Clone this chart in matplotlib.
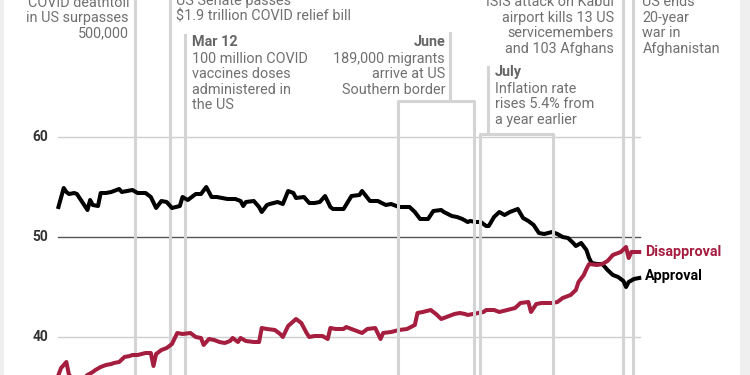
import matplotlib.pyplot as plt

plt.rcParams['font.family'] = ['Roboto', 'DejaVu Sans']

# day of year 2021 / poll average (%)
app_day = [24, 26, 27, 28, 30, 31, 33, 35, 36, 37, 39, 40, 42, 44, 47, 48, 52, 54, 57, 59,
           61, 63, 65, 67, 70, 71, 73, 76, 78, 80, 82, 84, 86, 88, 91, 93, 94, 95, 98, 100,
           101, 103, 104, 107, 109, 111, 113, 114, 117, 119, 121, 123, 125, 127, 128, 132, 135, 138, 139, 142,
           145, 148, 150, 153, 157, 159, 161, 164, 166, 169, 170, 173, 175, 177, 179, 180, 182, 184, 186, 187,
           189, 191, 193, 195, 198, 200, 202, 204, 206, 208, 211, 213, 215, 217, 219, 220, 222, 224, 225, 226,
           228, 230, 232, 234, 236, 238, 239, 240, 242, 244]
approval = [53.0, 54.9, 54.5, 54.3, 54.4, 54.3, 53.5, 52.7, 53.7, 53.2, 53.1, 54.4, 54.4, 54.5, 54.8, 54.5, 54.7, 54.4, 54.4, 54.0,
            52.9, 53.6, 53.5, 52.9, 53.1, 54.0, 53.7, 54.3, 54.3, 55.0, 54.0, 54.0, 53.9, 53.8, 53.8, 53.6, 53.1, 53.5, 53.6, 53.0,
            52.5, 53.2, 53.3, 53.5, 53.3, 54.6, 54.4, 53.9, 54.0, 53.4, 53.4, 53.5, 54.1, 53.0, 52.8, 52.8, 54.1, 54.2, 54.6, 53.6,
            53.6, 53.2, 53.3, 53.0, 53.0, 52.5, 51.8, 51.8, 52.6, 52.7, 52.5, 52.1, 52.0, 51.8, 51.5, 51.6, 51.5, 51.5, 51.1, 51.1,
            52.0, 52.5, 52.2, 52.5, 52.8, 51.9, 51.6, 51.2, 50.4, 50.3, 50.5, 50.3, 50.0, 49.9, 49.4, 49.1, 49.4, 48.7, 47.9, 47.4,
            47.3, 47.3, 46.7, 46.2, 46.0, 45.6, 45.0, 45.5, 45.8, 45.9]

dis_day = [24, 25, 27, 28, 30, 33, 35, 37, 38, 40, 41, 42, 44, 45, 47, 49, 51, 52, 54, 57,
           59, 60, 61, 63, 65, 67, 69, 71, 74, 76, 78, 79, 81, 83, 85, 87, 89, 90, 92, 93,
           95, 98, 100, 101, 103, 106, 108, 109, 111, 114, 116, 118, 119, 121, 124, 126, 127, 129, 132, 133,
           134, 136, 139, 141, 144, 146, 147, 150, 153, 156, 159, 160, 162, 165, 167, 169, 171, 174, 176, 178,
           179, 181, 185, 186, 189, 191, 194, 197, 199, 202, 203, 205, 207, 211, 213, 215, 218, 220, 221, 223,
           224, 225, 228, 230, 232, 234, 236, 237, 239, 240, 241, 243, 244]
disapproval = [36.2, 36.9, 37.5, 36.2, 35.7, 35.7, 36.2, 36.5, 36.7, 37.0, 37.1, 37.2, 37.3, 37.4, 37.5, 38.0, 38.1, 38.2, 38.2, 38.4,
               38.4, 37.1, 38.3, 38.7, 38.9, 39.3, 40.4, 40.3, 40.4, 40.0, 39.9, 39.2, 39.8, 39.7, 39.5, 39.4, 39.6, 39.9, 39.5, 39.9,
               39.6, 39.5, 39.5, 40.9, 40.8, 40.7, 40.3, 40.0, 41.1, 41.8, 41.4, 40.4, 40.0, 40.1, 40.1, 39.8, 40.9, 40.8, 40.8, 41.0,
               40.9, 40.7, 40.4, 40.8, 40.9, 39.8, 40.4, 40.5, 40.7, 40.8, 41.2, 42.4, 42.5, 42.7, 42.3, 41.8, 42.0, 42.3, 42.4, 42.3,
               42.2, 42.3, 42.5, 42.7, 42.7, 42.5, 42.7, 42.9, 43.4, 43.5, 42.5, 43.3, 43.4, 43.4, 43.5, 43.9, 44.2, 44.7, 45.5, 46.2,
               46.8, 47.3, 47.2, 47.3, 47.6, 48.2, 48.4, 48.5, 49.0, 47.9, 48.5, 48.5, 48.5]

grid_vals = [60, 50, 40]
event_days = [53, 66.3, 72, 238, 241.8]      # deathtoll, senate, Mar 12, Kabul, war ends
june = (152.5, 181.5, 172.3)                 # bracket start, end, label stem
july = (183.5, 211.5, 186.7)

GREY_LINE = '#d4d4d4'
TXT = '#707070'
RED = '#a51d3f'
FS = 10.4


# pixel helpers for placing the annotation layer
def px(x):
    return 53 + (x - 135) / 2.64


def py(y):
    return 50 + (237 - y) / 10


fig = plt.figure(figsize=(7.5, 3.75), dpi=100)
ax = fig.add_axes([0, 0, 1, 1])
ax.set_xlim(px(0), px(750))
ax.set_ylim(py(375), py(0))
ax.axis('off')

ax.axvspan(px(0), px(4), color='#efefef', lw=0)
ax.axvspan(px(740), px(750), color='#efefef', lw=0)

# grid + y labels
for v in grid_vals:
    ax.plot([px(58), px(640)], [v, v], color='#555555' if v == 50 else '#cfcfcf', lw=1, zorder=1)
    ax.text(px(48), v, str(v), ha='right', va='center', fontsize=10, fontweight='bold', color='#333333')

# event lines
top, bottom = py(-5), py(400)
ax.plot([event_days[0]] * 2, [top, bottom], color=GREY_LINE, lw=2.2, zorder=1)
ax.plot([event_days[1]] * 2, [top, bottom], color=GREY_LINE, lw=2.2, zorder=1)
ax.plot([event_days[2]] * 2, [py(35), bottom], color=GREY_LINE, lw=2.2, zorder=1)
ax.plot([event_days[3]] * 2, [top, bottom], color=GREY_LINE, lw=2.2, zorder=1)
ax.plot([event_days[4]] * 2, [top, bottom], color=GREY_LINE, lw=2.2, zorder=1)

for (d0, d1, stem), (y_stem, y_box) in [(june, (33, 101)), (july, (67, 134))]:
    ax.plot([stem, stem], [py(y_stem), py(y_box)], color=GREY_LINE, lw=2.2, zorder=4)
    ax.plot([d0, d0, d1, d1], [bottom, py(y_box), py(y_box), bottom], color=GREY_LINE, lw=2.2, zorder=4)

# series
ax.plot(app_day, approval, color='black', lw=2.9, zorder=3, solid_joinstyle='round')
ax.plot(dis_day, disapproval, color=RED, lw=2.9, zorder=3, solid_joinstyle='round')
ax.text(px(645), py(252), 'Disapproval', color=RED, fontsize=FS, fontweight='bold', va='center')
ax.text(px(645), py(276), 'Approval', color='black', fontsize=FS, fontweight='bold', va='center')


def note(x, y0, lines, ha='left', title=None, ty=None):
    if title:
        ax.text(px(x), py(ty), title, ha=ha, va='baseline', fontsize=FS, fontweight='bold', color='#666666')
    for i, s in enumerate(lines):
        ax.text(px(x), py(y0 + i * 15.5), s, ha=ha, va='baseline', fontsize=FS, color=TXT)


note(129, 6.5, ['COVID deathtoll', 'in US surpasses', '500,000'], ha='right')
note(176.5, 5, ['US Senate passes', r'\$1.9 trillion COVID relief bill'])
note(192.5, 62.5, ['100 million COVID', 'vaccines doses', 'administered in', 'the US'], title='Mar 12', ty=46)
note(445, 62.5, ['189,000 migrants', 'arrive at US', 'Southern border'], ha='right', title='June', ty=46)
note(495, 92.5, ['Inflation rate', 'rises 5.4% from', 'a year earlier'], title='July', ty=76)
note(614, 6, ['ISIS attack on Kabul', 'airport kills 13 US', 'servicemembers', 'and 103 Afghans'], ha='right')
note(642.5, 6, ['US ends', '20-year', 'war in', 'Afghanistan'])

fig.savefig('out.png', dpi=100)
